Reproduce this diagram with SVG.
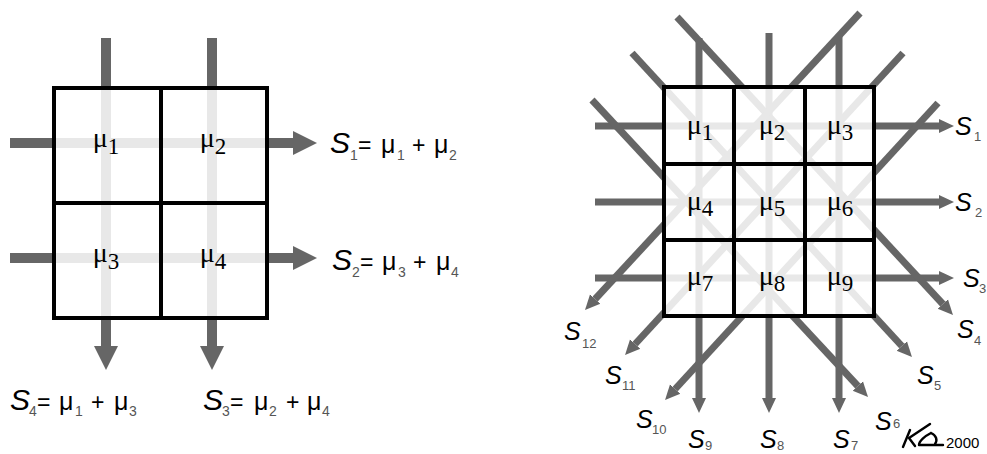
<svg xmlns="http://www.w3.org/2000/svg" width="987" height="454" viewBox="0 0 987 454">
  <style>
    .cell { fill: none; stroke: #000; stroke-width: 4; }
    .plate { fill: #fff; }
    .mu { font-family: "Liberation Serif", "Times New Roman", serif; font-size: 28px; fill: #000; text-anchor: middle; }
    .mu tspan { font-size: 23px; }
    .eq { font-family: "Liberation Sans", Arial, sans-serif; font-size: 23px; fill: #000; }
    .g { font-size: 25px; }
    .big { font-style: italic; font-size: 30px; }
    .s { font-family: "Liberation Sans", Arial, sans-serif; font-style: italic; font-size: 25px; fill: #000; }
    .sub { font-style: normal; font-size: 14px; fill: #555; }
    .rsub { font-style: normal; font-size: 13px; fill: #555; }
    .year { font-family: "Liberation Sans", Arial, sans-serif; font-size: 15px; fill: #000; }
  </style>
  <defs>
    <marker id="headL" markerUnits="userSpaceOnUse" markerWidth="26" markerHeight="26" viewBox="0 -13 26 26" refX="0" refY="0" orient="auto">
      <path d="M0,-12 L24,0 L0,12 z" fill="#666"/>
    </marker>
    <marker id="headR" markerUnits="userSpaceOnUse" markerWidth="17" markerHeight="17" viewBox="0 -8 17 16" refX="0" refY="0" orient="auto">
      <path d="M0,-7 L15,0 L0,7 z" fill="#666"/>
    </marker>
    <clipPath id="clipL"><rect x="54" y="88" width="213" height="230"/></clipPath>
    <clipPath id="clipR"><rect x="664" y="87" width="210" height="229"/></clipPath>
  </defs>

  <!-- rays: dark outside the grids -->
  <g id="connectors" stroke="#666" fill="none">
    <g id="rays-left" stroke-width="10">
      <path d="M106,38 V346" marker-end="url(#headL)"/>
      <path d="M212,38 V346" marker-end="url(#headL)"/>
      <path d="M10,143 H293" marker-end="url(#headL)"/>
      <path d="M10,258 H293" marker-end="url(#headL)"/>
    </g>
    <g id="rays-right" stroke-width="7">
      <!-- rows -->
      <path d="M595,126 H939" marker-end="url(#headR)"/>
      <path d="M595,202 H939" marker-end="url(#headR)"/>
      <path d="M595,278 H939" marker-end="url(#headR)"/>
      <!-- columns -->
      <path d="M699,38 V398" marker-end="url(#headR)"/>
      <path d="M769,33 V398" marker-end="url(#headR)"/>
      <path d="M839,36 V398" marker-end="url(#headR)"/>
      <!-- falling diagonals -->
      <path d="M677,17 L942.8,304" marker-end="url(#headR)"/>
      <path d="M632,53 L901.8,346" marker-end="url(#headR)"/>
      <path d="M592,100 L857.8,386" marker-end="url(#headR)"/>
      <!-- rising diagonals -->
      <path d="M860,13 L595.2,299" marker-end="url(#headR)"/>
      <path d="M903,53 L635.2,344" marker-end="url(#headR)"/>
      <path d="M938,103 L675.2,389" marker-end="url(#headR)"/>
    </g>
  </g>

  <!-- white grid interiors -->
  <rect class="plate" x="54" y="88" width="213" height="230"/>
  <rect class="plate" x="664" y="87" width="210" height="229"/>

  <!-- rays shown faintly inside the grids -->
  <use href="#rays-left" stroke="#e8e8e8" fill="none" clip-path="url(#clipL)"/>
  <use href="#rays-right" stroke="#e8e8e8" fill="none" clip-path="url(#clipR)"/>

  <!-- 2x2 grid -->
  <g id="L1"><rect class="cell" x="54" y="88" width="107" height="115"/><text class="mu" x="106" y="147">μ<tspan dy="7">1</tspan></text></g>
  <g id="L2"><rect class="cell" x="161" y="88" width="106" height="115"/><text class="mu" x="213" y="147">μ<tspan dy="7">2</tspan></text></g>
  <g id="L3"><rect class="cell" x="54" y="203" width="107" height="115"/><text class="mu" x="106" y="262">μ<tspan dy="7">3</tspan></text></g>
  <g id="L4"><rect class="cell" x="161" y="203" width="106" height="115"/><text class="mu" x="213" y="262">μ<tspan dy="7">4</tspan></text></g>

  <!-- 3x3 grid -->
  <g id="R1"><rect class="cell" x="664" y="87" width="70" height="77"/><text class="mu" x="700" y="134">μ<tspan dy="6">1</tspan></text></g>
  <g id="R2"><rect class="cell" x="734" y="87" width="71" height="77"/><text class="mu" x="772" y="134">μ<tspan dy="6">2</tspan></text></g>
  <g id="R3"><rect class="cell" x="805" y="87" width="69" height="77"/><text class="mu" x="840" y="134">μ<tspan dy="6">3</tspan></text></g>
  <g id="R4"><rect class="cell" x="664" y="164" width="70" height="76"/><text class="mu" x="700" y="210">μ<tspan dy="6">4</tspan></text></g>
  <g id="R5"><rect class="cell" x="734" y="164" width="71" height="76"/><text class="mu" x="772" y="210">μ<tspan dy="6">5</tspan></text></g>
  <g id="R6"><rect class="cell" x="805" y="164" width="69" height="76"/><text class="mu" x="840" y="210">μ<tspan dy="6">6</tspan></text></g>
  <g id="R7"><rect class="cell" x="664" y="240" width="70" height="76"/><text class="mu" x="700" y="285">μ<tspan dy="6">7</tspan></text></g>
  <g id="R8"><rect class="cell" x="734" y="240" width="71" height="76"/><text class="mu" x="772" y="285">μ<tspan dy="6">8</tspan></text></g>
  <g id="R9"><rect class="cell" x="805" y="240" width="69" height="76"/><text class="mu" x="840" y="285">μ<tspan dy="6">9</tspan></text></g>

  <!-- sums for the 2x2 grid -->
  <g id="eq-left">
    <text class="eq"><tspan class="big" x="330" y="153">S</tspan><tspan class="sub" x="350" y="160">1</tspan><tspan x="358" y="153">=</tspan><tspan class="g" x="381" y="153">μ</tspan><tspan class="sub" x="397" y="160">1</tspan><tspan x="412" y="153">+</tspan><tspan class="g" x="434" y="153">μ</tspan><tspan class="sub" x="449" y="160">2</tspan></text>
    <text class="eq"><tspan class="big" x="332" y="270">S</tspan><tspan class="sub" x="352" y="277">2</tspan><tspan x="360" y="270">=</tspan><tspan class="g" x="382" y="270">μ</tspan><tspan class="sub" x="398" y="277">3</tspan><tspan x="413" y="270">+</tspan><tspan class="g" x="436" y="270">μ</tspan><tspan class="sub" x="451" y="277">4</tspan></text>
    <text class="eq"><tspan class="big" x="10" y="410">S</tspan><tspan class="sub" x="29" y="416">4</tspan><tspan x="37" y="410">=</tspan><tspan class="g" x="59" y="410">μ</tspan><tspan class="sub" x="75" y="416">1</tspan><tspan x="91" y="410">+</tspan><tspan class="g" x="114" y="410">μ</tspan><tspan class="sub" x="129" y="416">3</tspan></text>
    <text class="eq"><tspan class="big" x="203" y="410">S</tspan><tspan class="sub" x="222" y="416">3</tspan><tspan x="230" y="410">=</tspan><tspan class="g" x="254" y="410">μ</tspan><tspan class="sub" x="269" y="416">2</tspan><tspan x="286" y="410">+</tspan><tspan class="g" x="307" y="410">μ</tspan><tspan class="sub" x="322" y="416">4</tspan></text>
  </g>

  <!-- sums for the 3x3 grid -->
  <g id="eq-right">
    <text class="s" x="955" y="135">S<tspan class="rsub" x="974" y="141">1</tspan></text>
    <text class="s" x="955" y="211">S<tspan class="rsub" x="975" y="217">2</tspan></text>
    <text class="s" x="963" y="287">S<tspan class="rsub" x="979" y="293">3</tspan></text>
    <text class="s" x="957" y="338">S<tspan class="rsub" x="974" y="345">4</tspan></text>
    <text class="s" x="917" y="384">S<tspan class="rsub" x="934" y="390">5</tspan></text>
    <text class="s" x="875" y="430">S<tspan class="rsub" x="893" y="428">6</tspan></text>
    <text class="s" x="833" y="448">S<tspan class="rsub" x="851" y="450">7</tspan></text>
    <text class="s" x="760" y="448">S<tspan class="rsub" x="777" y="450">8</tspan></text>
    <text class="s" x="688" y="448">S<tspan class="rsub" x="705" y="450">9</tspan></text>
    <text class="s" x="636" y="428">S<tspan class="rsub" x="652" y="434">10</tspan></text>
    <text class="s" x="605" y="384">S<tspan class="rsub" x="622" y="390">11</tspan></text>
    <text class="s" x="564" y="340">S<tspan class="rsub" x="582" y="348">12</tspan></text>
  </g>

  <!-- signature and year -->
  <g id="signature" fill="none" stroke="#000" stroke-width="2.4" stroke-linecap="round" stroke-linejoin="round">
    <path d="M910,430 L903,447"/>
    <path d="M930,424 L909,438 L915,446"/>
    <path d="M931,433 C925,436 919,441 919,445 L943,445 M931,433 C936,435 938,440 935,444"/>
  </g>
  <text class="year" x="946" y="448">2000</text>
</svg>
